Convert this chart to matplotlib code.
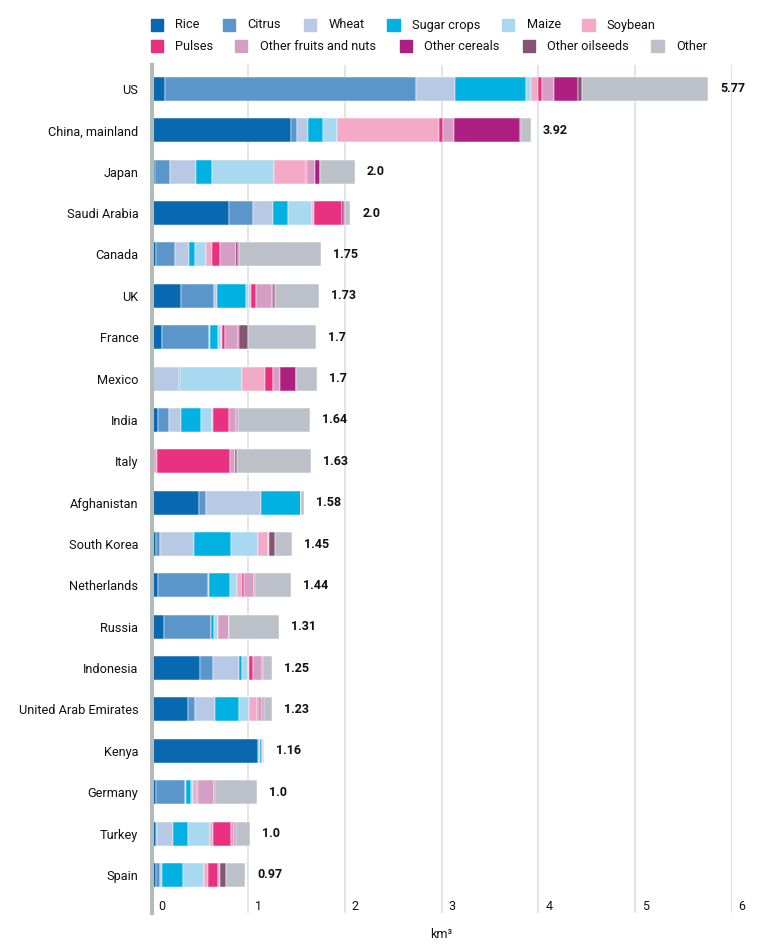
import matplotlib
matplotlib.use('Agg')
import matplotlib.pyplot as plt
from matplotlib.patches import Rectangle
import numpy as np

plt.rcParams['font.family'] = ['Roboto', 'DejaVu Sans']

countries = ['US', 'China, mainland', 'Japan', 'Saudi Arabia', 'Canada', 'UK', 'France',
             'Mexico', 'India', 'Italy', 'Afghanistan', 'South Korea', 'Netherlands',
             'Russia', 'Indonesia', 'United Arab Emirates', 'Kenya', 'Germany', 'Turkey', 'Spain']
totals = ['5.77', '3.92', '2.0', '2.0', '1.75', '1.73', '1.7', '1.7', '1.64', '1.63',
          '1.58', '1.45', '1.44', '1.31', '1.25', '1.23', '1.16', '1.0', '1.0', '0.97']

# km3 per crop group, same order as countries
rice = [0.14, 1.44, 0.04, 0.80, 0.05, 0.31, 0.11, 0.0, 0.07, 0.0,
        0.49, 0.05, 0.07, 0.13, 0.50, 0.38, 1.10, 0.05, 0.045, 0.05]
citrus = [2.60, 0.06, 0.15, 0.245, 0.19, 0.34, 0.48, 0.0, 0.11, 0.01,
          0.07, 0.04, 0.51, 0.49, 0.14, 0.065, 0.015, 0.30, 0.01, 0.035]
wheat = [0.40, 0.12, 0.27, 0.21, 0.15, 0.03, 0.02, 0.28, 0.12, 0.0,
         0.57, 0.35, 0.01, 0.0, 0.265, 0.21, 0.005, 0.01, 0.165, 0.025]
sugar_crops = [0.735, 0.15, 0.17, 0.155, 0.065, 0.30, 0.08, 0.012, 0.21, 0.01,
               0.415, 0.38, 0.22, 0.03, 0.035, 0.25, 0.02, 0.05, 0.155, 0.22]
maize = [0.05, 0.15, 0.64, 0.25, 0.11, 0.03, 0.03, 0.645, 0.115, 0.0,
         0.005, 0.28, 0.07, 0.035, 0.06, 0.10, 0.005, 0.02, 0.235, 0.215]
soybean = [0.07, 1.05, 0.33, 0.017, 0.06, 0.02, 0.01, 0.235, 0.015, 0.04,
           0.0, 0.10, 0.06, 0.005, 0.01, 0.09, 0.005, 0.04, 0.03, 0.035]
pulses = [0.04, 0.04, 0.01, 0.29, 0.085, 0.05, 0.025, 0.08, 0.16, 0.75,
          0.0, 0.005, 0.02, 0.0, 0.04, 0.005, 0.015, 0.015, 0.18, 0.105]
other_fruits = [0.13, 0.12, 0.08, 0.005, 0.16, 0.17, 0.14, 0.08, 0.075, 0.05,
                0.0, 0.01, 0.10, 0.11, 0.095, 0.045, 0.0, 0.16, 0.035, 0.02]
other_cereals = [0.25, 0.68, 0.05, 0.02, 0.027, 0.005, 0.005, 0.16, 0.008, 0.005,
                 0.0, 0.005, 0.005, 0.0, 0.003, 0.005, 0.0, 0.0, 0.005, 0.005]
other_oilseeds = [0.035, 0.01, 0.005, 0.005, 0.01, 0.025, 0.095, 0.005, 0.01, 0.015,
                  0.0, 0.06, 0.01, 0.0, 0.005, 0.012, 0.0, 0.007, 0.01, 0.06]
other = [1.31, 0.10, 0.355, 0.06, 0.845, 0.455, 0.71, 0.21, 0.745, 0.765,
         0.03, 0.175, 0.37, 0.515, 0.09, 0.085, 0.0, 0.44, 0.145, 0.20]

series = [
    ('Rice', rice, '#0868b0'),
    ('Citrus', citrus, '#5b96cb'),
    ('Wheat', wheat, '#b7c9e4'),
    ('Sugar crops', sugar_crops, '#00b1e1'),
    ('Maize', maize, '#a9d8f1'),
    ('Soybean', soybean, '#f2aac6'),
    ('Pulses', pulses, '#e83180'),
    ('Other fruits and nuts', other_fruits, '#d59ec4'),
    ('Other cereals', other_cereals, '#ad1f80'),
    ('Other oilseeds', other_oilseeds, '#855475'),
    ('Other', other, '#bcc0c8'),
]

W, H = 764, 951
fig = plt.figure(figsize=(W / 100, H / 100), dpi=100)
ax = fig.add_axes([151.5 / W, 1 - 913 / H, 580.2 / W, 848 / H])

y = np.arange(len(countries))
left = np.zeros(len(countries))
for name, vals, color in series:
    vals = np.array(vals)
    ax.barh(y, vals, left=left, height=0.58, color=color,
            edgecolor='white', linewidth=0.35, zorder=2)
    left += vals

for yi, end, lab in zip(y, left, totals):
    ax.annotate(lab, xy=(end, yi), xytext=(8.6, 0), textcoords='offset points',
                va='center', ha='left', fontsize=9, fontweight='bold', color='#111111')

ax.set_xlim(0, 6)
ax.set_ylim(19.92, -0.58)

ax.set_xticks(range(7))
ax.tick_params(axis='x', length=0, labelbottom=False)
ax.grid(axis='x', color='#dcdcdc', linewidth=1.1, zorder=0)
ax.set_axisbelow(True)

for i in range(7):
    ax.annotate(str(i), xy=(i, 0), xycoords=('data', 'axes fraction'),
                xytext=(5, 5), textcoords='offset points',
                va='center', ha='left', fontsize=9, color='#111111')

ax.set_yticks(y)
ax.set_yticklabels(countries, fontsize=9.2, color='#111111')
ax.tick_params(axis='y', length=0, pad=9.5)

for s in ['top', 'right', 'bottom']:
    ax.spines[s].set_visible(False)
ax.spines['left'].set_color('#b3bbb8')
ax.spines['left'].set_linewidth(2.9)
ax.spines['left'].set_zorder(5)

ax.text(3, -21 / 848, 'km³', transform=ax.get_xaxis_transform(),
        ha='center', va='center', fontsize=9, color='#111111')

# legend: two rows, square left edges in pixels
legend_rows = [
    (25, [150.7, 222.7, 303.8, 387.2, 502.0, 582.4], series[:6]),
    (46, [150.7, 235.0, 399.5, 522.7, 651.3], series[6:]),
]
for yc, xs, items in legend_rows:
    for x, (name, _, color) in zip(xs, items):
        fig.add_artist(Rectangle((x / W, 1 - (yc + 6) / H), 12.3 / W, 12.3 / H,
                                 transform=fig.transFigure, color=color))
        fig.text((x + 24.5) / W, 1 - yc / H, name, fontsize=9.2,
                 va='center', ha='left', color='#111111')

fig.savefig('out.png', dpi=100)
